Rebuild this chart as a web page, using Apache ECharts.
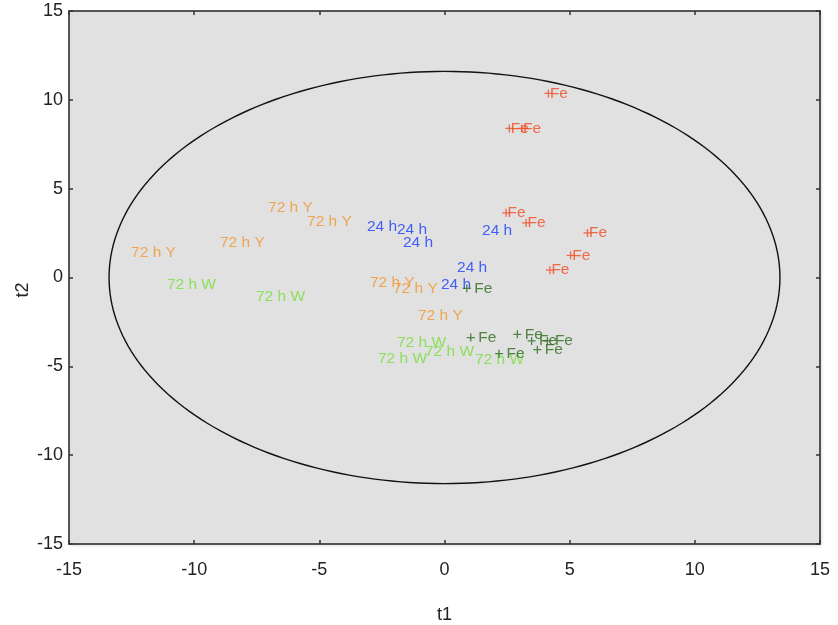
<!DOCTYPE html>
<html>
<head>
<meta charset="utf-8">
<script src="https://cdn.jsdelivr.net/npm/echarts@6/dist/echarts.min.js"></script>
<style>
html,body{margin:0;padding:0;background:#fff;}
#chart{width:838px;height:625px;}
</style>
</head>
<body>
<div id="chart"></div>
<script>
// ---- data ----
const xTicks = [-15, -10, -5, 0, 5, 10, 15];
const yTicks = [-15, -10, -5, 0, 5, 10, 15];
const xAxisTitle = 't1';
const yAxisTitle = 't2';

const labels72Y = ['72 h Y','72 h Y','72 h Y','72 h Y','72 h Y','72 h Y','72 h Y'];
const points72Y = [[-12.52,1.40],[-8.97,1.98],[-7.05,3.93],[-5.49,3.15],[-2.98,-0.27],[-2.06,-0.61],[-1.06,-2.15]];

const labels72W = ['72 h W','72 h W','72 h W','72 h W','72 h W','72 h W'];
const points72W = [[-11.09,-0.39],[-7.53,-1.08],[-1.90,-3.65],[-2.66,-4.57],[-0.78,-4.18],[1.22,-4.63]];

const labels24h = ['24 h','24 h','24 h','24 h','24 h','24 h'];
const points24h = [[-3.10,2.86],[-1.90,2.69],[-1.66,1.98],[1.50,2.64],[0.50,0.55],[-0.14,-0.39]];

const labelsFeDark = ['Fe','Fe','Fe','Fe','Fe','Fe','Fe'];
const pointsFeDark = [[0.89,-0.61],[1.05,-3.38],[2.18,-4.29],[2.91,-3.20],[3.48,-3.57],[3.71,-4.06],[4.11,-3.57]];

const labelsFeRed = ['Fe','Fe','Fe','Fe','Fe','Fe','Fe','Fe'];
const pointsFeRed = [[4.15,10.36],[2.59,8.39],[3.08,8.39],[2.46,3.64],[3.26,3.07],[5.71,2.51],[5.04,1.25],[4.21,0.41]];

// confidence ellipse: centre x, centre y, semi-axis x, semi-axis y
const ellipseParams = [0, 0, 13.4, 11.6];

// ---- chart ----
const FONT = 'Liberation Sans';
const chart = echarts.init(document.getElementById('chart'));

function textSeries(points, names, color) {
  return {
    type: 'scatter',
    symbolSize: 0,
    data: points.map((p, i) => ({ value: p, name: names[i] })),
    label: {
      show: true, position: 'right', distance: 0,
      formatter: '{b}', color: color, fontFamily: FONT, fontSize: 15.5
    },
    itemStyle: { color: color },
    silent: true, z: 5
  };
}
function markerSeries(points, names, color, dist) {
  return {
    type: 'scatter',
    symbol: 'path://M0,5L10,5M5,0L5,10',
    symbolSize: 8,
    data: points.map((p, i) => ({ value: p, name: names[i] })),
    itemStyle: { color: 'none', borderColor: color, borderWidth: 1.3 },
    label: {
      show: true, position: 'right', distance: dist,
      formatter: '{b}', color: color, fontFamily: FONT, fontSize: 15.5
    },
    silent: true, z: 6
  };
}

const axisCommon = {
  type: 'value', min: -15, max: 15, interval: 5,
  splitLine: { show: false },
  axisLine: { show: true, onZero: false, lineStyle: { color: '#222', width: 1.5 } },
  axisTick: { show: true, inside: true, length: 4, lineStyle: { color: '#333', width: 1.5 } }
};

chart.setOption({
  animation: false,
  backgroundColor: '#fff',
  grid: {
    left: 69, right: 18, top: 11, bottom: 81,
    outerBoundsMode: 'none',
    show: true, backgroundColor: '#e1e1e1', borderWidth: 0,
    shadowColor: 'rgba(0,0,0,0.12)', shadowBlur: 3, shadowOffsetX: 2, shadowOffsetY: 2
  },
  graphic: [{
    type: 'text',
    x: 23, y: 290,
    rotation: Math.PI / 2,
    style: { text: yAxisTitle, fill: '#222', font: '18px "Liberation Sans"',
      align: 'center', verticalAlign: 'middle' },
    silent: true
  }],
  xAxis: [
    Object.assign({}, axisCommon, {
      position: 'bottom',
      name: xAxisTitle, nameLocation: 'middle', nameGap: 62, nameMoveOverlap: false,
      nameTextStyle: { color: '#222', fontFamily: FONT, fontSize: 18 },
      axisLabel: { color: '#222', fontFamily: FONT, fontSize: 18, margin: 17,
        formatter: v => xTicks.includes(v) ? String(v) : '' }
    }),
    Object.assign({}, axisCommon, { position: 'top', axisLabel: { show: false } })
  ],
  yAxis: [
    Object.assign({}, axisCommon, {
      position: 'left',
      axisLabel: { color: '#222', fontFamily: FONT, fontSize: 18, margin: 6,
        formatter: v => yTicks.includes(v) ? String(v) : '' }
    }),
    Object.assign({}, axisCommon, { position: 'right', axisLabel: { show: false } })
  ],
  series: [
    {
      type: 'custom',
      silent: true, z: 3,
      data: [ellipseParams],
      renderItem: function (params, api) {
        const cx = api.value(0), cy = api.value(1), a = api.value(2), b = api.value(3);
        const pts = [];
        const N = 240;
        for (let i = 0; i < N; i++) {
          const t = 2 * Math.PI * i / N;
          pts.push(api.coord([cx + a * Math.cos(t), cy + b * Math.sin(t)]));
        }
        return {
          type: 'polygon',
          shape: { points: pts },
          style: { fill: 'none', stroke: '#111', lineWidth: 1.4 }
        };
      }
    },
    textSeries(points72Y, labels72Y, '#f2962c'),
    textSeries(points72W, labels72W, '#76de3a'),
    textSeries(points24h, labels24h, '#1b3cff'),
    markerSeries(pointsFeDark, labelsFeDark, '#2c6a1a', 1),
    markerSeries(pointsFeRed, labelsFeRed, '#f04a20', -5)
  ]
});
</script>
</body>
</html>
